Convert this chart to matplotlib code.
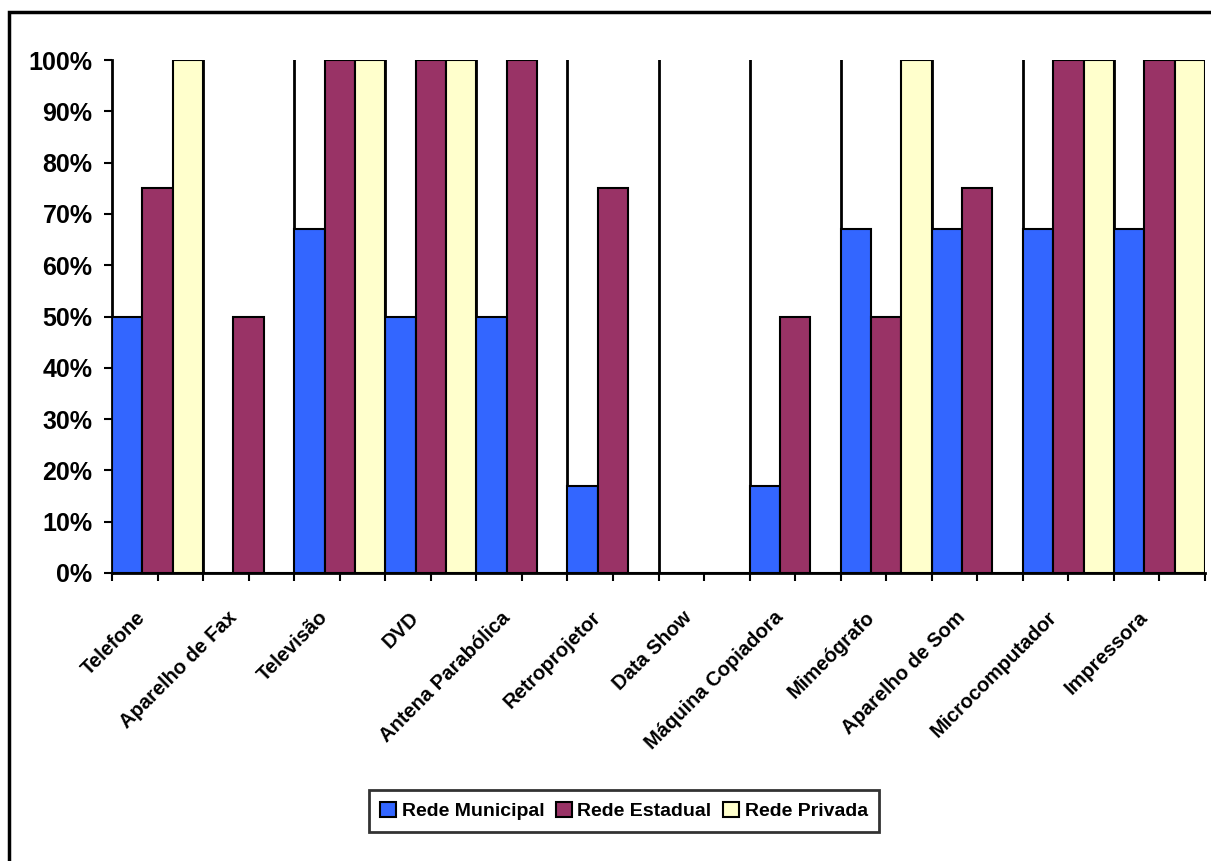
import numpy as np
import matplotlib.pyplot as plt
import matplotlib.transforms as mtransforms
from matplotlib.patches import Rectangle
from matplotlib.ticker import PercentFormatter

plt.rcParams['font.family'] = ['Liberation Sans', 'DejaVu Sans']
plt.rcParams['font.weight'] = 'bold'

# Dados
categorias = ["Telefone", "Aparelho de Fax", "Televisão", "DVD", "Antena Parabólica",
              "Retroprojetor", "Data Show", "Máquina Copiadora", "Mimeógrafo",
              "Aparelho de Som", "Microcomputador", "Impressora"]
municipal = [50, 0, 67, 50, 50, 17, 0, 17, 67, 67, 67, 67]
estadual = [75, 50, 100, 100, 100, 75, 0, 50, 50, 75, 100, 100]
privada = [100, 0, 100, 100, 0, 0, 0, 0, 100, 0, 100, 100]
series = ["Rede Municipal", "Rede Estadual", "Rede Privada"]
cores = ["#3366FF", "#993366", "#FFFFCC"]

W, H = 1211, 861
fig = plt.figure(figsize=(W / 100, H / 100), dpi=100)
ax = fig.add_axes([112 / W, 1 - 573 / H, (1205 - 112) / W, (573 - 60) / H])

x = np.arange(len(categorias))
w = 1 / 3
for k, (vals, nome, cor) in enumerate(zip([municipal, estadual, privada], series, cores)):
    ax.bar(x + (k - 1) * w, np.array(vals) / 100, width=w, color=cor,
           edgecolor="black", linewidth=1.5, label=nome, zorder=3)

# linhas verticais entre categorias
bordas = np.arange(len(categorias) + 1) - 0.5
for b in bordas[1:-1]:
    ax.axvline(b, ymin=0, ymax=1, color="black", linewidth=2, zorder=1)

ax.set_xlim(-0.5, len(categorias) - 0.5)
ax.set_ylim(0, 1)
ax.set_yticks(np.arange(0, 1.01, 0.1))
ax.yaxis.set_major_formatter(PercentFormatter(1.0, decimals=0))
ax.tick_params(axis="y", labelsize=18, length=6, width=1.5, direction="out", pad=8)

ax.set_xticks(bordas)
ax.set_xticklabels([])
ax.set_xticks(x, minor=True)
ax.set_xticklabels(categorias, minor=True, rotation=45, ha="right", va="center",
                   rotation_mode="anchor", fontsize=14.5)
ax.tick_params(axis="x", which="both", length=6, width=1.5, direction="out")
ax.tick_params(axis="x", which="minor", pad=24)
desloc = mtransforms.ScaledTranslation(-0.15, 0, fig.dpi_scale_trans)
for lbl in ax.get_xticklabels(minor=True):
    lbl.set_transform(lbl.get_transform() + desloc)

for s in ["top", "right"]:
    ax.spines[s].set_visible(False)
ax.spines["left"].set_linewidth(2)
ax.spines["bottom"].set_linewidth(2)

leg = fig.legend(loc="center", bbox_to_anchor=(624 / W, 1 - 811 / H), ncol=3,
                 fontsize=14, frameon=True, fancybox=False, edgecolor="black",
                 handlelength=0.8, handleheight=0.8, handletextpad=0.3,
                 columnspacing=0.6, borderpad=0.6)
leg.get_frame().set_linewidth(2)

# moldura externa
fig.add_artist(Rectangle((9 / W, -0.1), 1.2, (H - 12) / H + 0.1,
                         transform=fig.transFigure, fill=False,
                         edgecolor="black", linewidth=2.5))

fig.savefig("out.png", dpi=100)
